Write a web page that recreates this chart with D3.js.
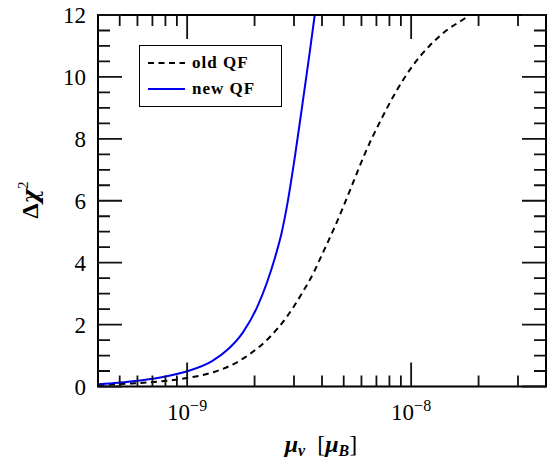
<!DOCTYPE html>
<html><head><meta charset="utf-8">
<script src="https://cdn.jsdelivr.net/npm/d3@7"></script>
<style>
html,body{margin:0;padding:0;background:#fff;}
svg{display:block;}
text{font-family:"Liberation Serif","DejaVu Serif",serif;fill:#000;}
</style></head>
<body>
<svg id="chart" width="559" height="460"></svg>
<script>
// ---- data ----
const muOld  = [4.02e-10, 5.69e-10, 7.74e-10, 1.010e-9, 1.292e-9, 1.586e-9, 1.907e-9, 2.341e-9, 2.786e-9, 3.217e-9, 3.712e-9, 3.908e-9, 4.652e-9, 5.482e-9, 6.197e-9, 7.377e-9, 8.603e-9, 1.0134e-8, 1.2063e-8, 1.4361e-8, 1.727e-8, 1.82e-8];
const chiOld = [0.05, 0.10, 0.17, 0.28, 0.45, 0.70, 1.05, 1.60, 2.25, 2.95, 3.75, 4.10, 5.30, 6.55, 7.50, 8.65, 9.55, 10.35, 11.00, 11.50, 11.88, 12.00];
const muNew  = [4.02e-10, 4.93e-10, 6.30e-10, 7.98e-10, 1.010e-9, 1.292e-9, 1.522e-9, 1.775e-9, 2.049e-9, 2.270e-9, 2.464e-9, 2.648e-9, 2.786e-9, 3.024e-9, 3.283e-9, 3.527e-9, 3.712e-9];
const chiNew = [0.07, 0.12, 0.20, 0.32, 0.50, 0.82, 1.20, 1.75, 2.55, 3.35, 4.15, 5.00, 5.80, 7.40, 9.20, 10.80, 12.00];
const xDomain = [4e-10, 4e-8];
const yDomain = [0, 12];
const xMajor = [1e-9, 1e-8];
const xMajorExp = ["\u22129", "\u22128"];
const xMinor = [5e-10, 6e-10, 7e-10, 8e-10, 9e-10, 2e-9, 3e-9, 4e-9, 5e-9, 6e-9, 7e-9, 8e-9, 9e-9, 2e-8, 3e-8];
const yMajor = [0, 2, 4, 6, 8, 10, 12];
const yMinor = [0.5, 1, 1.5, 2.5, 3, 3.5, 4.5, 5, 5.5, 6.5, 7, 7.5, 8.5, 9, 9.5, 10.5, 11, 11.5];
const seriesNames = ["old QF", "new QF"];

// ---- layout ----
const L = 98, R = 546, T = 15, B = 386.5;
const svg = d3.select("#chart");
const x = d3.scaleLog().domain(xDomain).range([L, R]);
const y = d3.scaleLinear().domain(yDomain).range([B, T]);

// curves
const line = d3.line().x(d => x(d[0])).y(d => y(d[1])).curve(d3.curveMonotoneX);
svg.append("path").datum(d3.zip(muOld, chiOld)).attr("d", line)
  .attr("fill", "none").attr("stroke", "black").attr("stroke-width", 2).attr("stroke-dasharray", "6,4.5");
svg.append("path").datum(d3.zip(muNew, chiNew)).attr("d", line)
  .attr("fill", "none").attr("stroke", "#0000ee").attr("stroke-width", 2);

// frame
svg.append("path").attr("d", `M${L},${T}H${R}V${B}H${L}Z`)
  .attr("fill", "none").attr("stroke", "black").attr("stroke-width", 2);

// y tick labels
yMajor.forEach(v => {
  svg.append("text").attr("x", 86).attr("y", y(v) + 8).attr("text-anchor", "end")
    .attr("font-size", 23).text(v);
});
// x tick labels
xMajor.forEach((v, i) => {
  const t = svg.append("text").attr("x", x(v)).attr("y", 420).attr("text-anchor", "middle").attr("font-size", 23);
  t.append("tspan").text("10");
  t.append("tspan").attr("dy", -9).attr("font-size", 16).text(xMajorExp[i]);
});

// axis titles
const xt = svg.append("text").attr("x", 321).attr("y", 452).attr("text-anchor", "middle")
  .attr("font-size", 24).attr("font-weight", "bold");
xt.append("tspan").attr("font-style", "italic").text("\u03bc");
xt.append("tspan").attr("font-style", "italic").attr("font-size", 16).attr("dy", 4).text("\u03bd");
xt.append("tspan").attr("dy", -4).attr("font-weight", "normal").text("\u2002[");
xt.append("tspan").attr("font-style", "italic").text("\u03bc");
xt.append("tspan").attr("font-style", "italic").attr("font-size", 16).attr("dy", 4).text("B");
xt.append("tspan").attr("dy", -4).attr("font-weight", "normal").text("]");

const yt = svg.append("text").attr("transform", "translate(38,200) rotate(-90)")
  .attr("text-anchor", "middle").attr("font-size", 24).attr("font-weight", "bold");
yt.append("tspan").text("\u0394");
yt.append("tspan").attr("font-family", "DejaVu Serif").attr("font-style", "italic").attr("font-size", 22).text("\u03c7");
yt.append("tspan").attr("dy", -10).attr("font-size", 15).attr("font-weight", "normal").text("2");

// legend
const lg = svg.append("g");
lg.append("rect").attr("x", 139.5).attr("y", 45.5).attr("width", 142).attr("height", 61)
  .attr("fill", "white").attr("stroke", "black").attr("stroke-width", 1);
const legY = [63, 89];
const legStyle = [{c: "black", dash: "6,4.5"}, {c: "#0000ee", dash: null}];
seriesNames.forEach((n, i) => {
  lg.append("line").attr("x1", 148).attr("x2", 185).attr("y1", legY[i]).attr("y2", legY[i])
    .attr("stroke", legStyle[i].c).attr("stroke-width", 2).attr("stroke-dasharray", legStyle[i].dash);
  lg.append("text").attr("x", 192).attr("y", legY[i] + 5).attr("font-size", 17)
    .attr("font-weight", "bold").attr("letter-spacing", 1).text(n);
});

// ticks (inward on all four sides), drawn last as one path
const majL = 24, minL = 12, xMinL = 11;
const tp = d3.path();
xMajor.forEach(v => { const p = x(v); tp.moveTo(p, B); tp.lineTo(p, B - majL); tp.moveTo(p, T); tp.lineTo(p, T + majL); });
xMinor.forEach(v => { const p = x(v); tp.moveTo(p, B); tp.lineTo(p, B - xMinL); tp.moveTo(p, T); tp.lineTo(p, T + xMinL); });
yMajor.forEach(v => { const p = y(v); tp.moveTo(L, p); tp.lineTo(L + majL, p); tp.moveTo(R, p); tp.lineTo(R - majL, p); });
yMinor.forEach(v => { const p = y(v); tp.moveTo(L, p); tp.lineTo(L + minL, p); tp.moveTo(R, p); tp.lineTo(R - minL, p); });
svg.append("path").attr("d", tp.toString())
  .attr("fill", "none").attr("stroke", "#111").attr("stroke-width", 1.8);
</script>
</body></html>
